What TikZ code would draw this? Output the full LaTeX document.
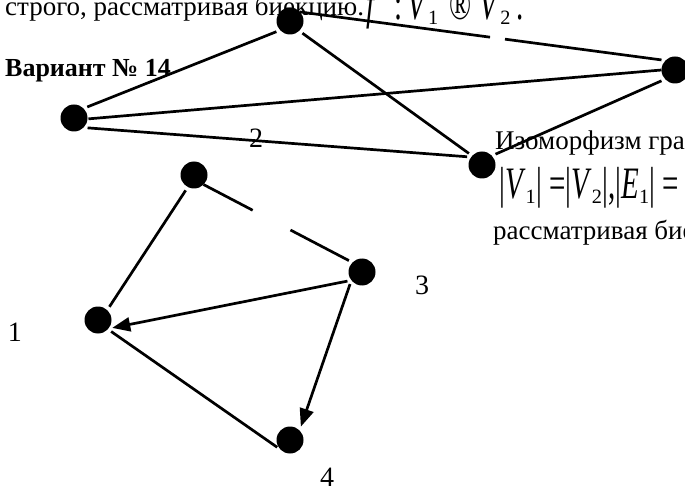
\documentclass[tikz,border=0pt]{standalone}
\usepackage{fontspec}
\setmainfont{Liberation Serif}
\usepackage{graphicx}
\usetikzlibrary{arrows.meta,calc}

% formula glyphs are drawn tall, as in the source
\newcommand{\tallglyph}[1]{\scalebox{1}[1.55]{#1}}
\newcommand{\setv}[2]{\tallglyph{\textit{#1}}\textsubscript{#2}}

\begin{document}
\begin{tikzpicture}[x=1pt, y=-1pt,
    vertex/.style={circle, fill=black, inner sep=0pt, outer sep=0pt, minimum size=27pt},
    link/.style={line width=2.7pt, shorten <=4pt, shorten >=4pt},
    arrowlink/.style={link, -{Triangle[length=18pt, width=14pt]}},
    num/.style={font=\fontsize{28}{30}\selectfont, inner sep=0pt},
    txt/.style={anchor=base west, inner sep=0pt, font=\fontsize{27}{30}\selectfont},
    formula/.style={anchor=base west, inner sep=0pt, font=\fontsize{29}{32}\selectfont}
]
    \useasboundingbox (0,0) rectangle (685,486);
    \clip (0,0) rectangle (685,486);

    % Text around the graphs
    \node[txt] (head) at (5,16) {строго, рассматривая биекцию.};
    \node[formula] (map) at (366,20) {\tallglyph{\textit{f}}\hspace{17pt}\tallglyph{:}\hspace{5pt}\setv{V}{1}\hspace{11pt}\tallglyph{®}\hspace{8pt}\setv{V}{2}\hspace{5pt}\tallglyph{.}};
    \node[txt, font=\fontsize{26}{30}\selectfont\bfseries] (variant) at (5,77) {Вариант № 14};
    \node[txt] (iso) at (495,150) {Изоморфизм граф};
    \node[formula] (card) at (499,199) {\tallglyph{|}\setv{V}{1}\tallglyph{|\ =|}\setv{V}{2}\tallglyph{|,|}\setv{E}{1}\tallglyph{|\ =}};
    \node[txt] (bij) at (493,240) {рассматривая бие};

    % Upper graph
    \node[vertex] (a) at (290,21) {};
    \node[vertex] (b) at (74,118) {};
    \node[vertex] (c) at (482,165) {};
    \node[vertex] (d) at (675,70) {};

    \draw[link] (a.223) -- (b.45);
    \draw[link] (a.313) -- (c.137);
    \draw[link] (b.315) -- (c.144);
    \draw[link, shorten <=1pt, shorten >=0pt] (b.356) -- (d.180);
    \draw[link] (d.223) -- (c.43);
    \draw[link] (a.42) -- ($(a.42)!.52!(d.135)$) ($(a.42)!.55!(d.135)$) -- (d.135);

    % Lower graph
    \node[vertex] (v1) at (98,320) {};
    \node[vertex] (v2) at (194,175) {};
    \node[vertex] (v3) at (362,272) {};
    \node[vertex] (v4) at (290,440) {};

    \draw[link] (v2.243) -- (v1.47);
    \draw[link] (v2.315) -- ($(v2.315)!.33!(v3.135)$) ($(v2.315)!.56!(v3.135)$) -- (v3.135);
    \draw[arrowlink] (v3.218) -- (v1.320);
    \draw[arrowlink] (v3.218) -- (v4.45);
    \draw[link] (v1.317) -- (v4.225);

    % Vertex numbers
    \node[num] (l1) at (15,332) {1};
    \node[num] (l2) at (256,138) {2};
    \node[num] (l3) at (422,285) {3};
    \node[num] (l4) at (327,477) {4};
\end{tikzpicture}
\end{document}
